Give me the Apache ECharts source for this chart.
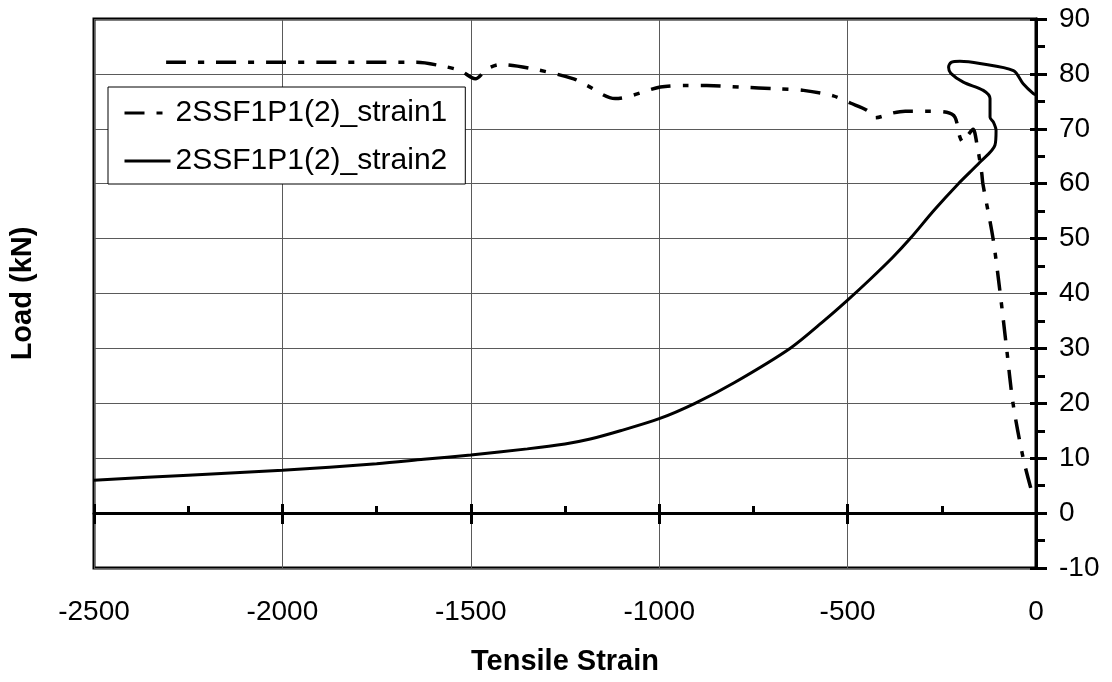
<!DOCTYPE html>
<html>
<head>
<meta charset="utf-8">
<script src="https://cdn.jsdelivr.net/npm/echarts@6/dist/echarts.min.js"></script>
<style>
  html, body { margin: 0; padding: 0; background: #fff; }
  #chart { width: 1112px; height: 682px; }
</style>
</head>
<body>
<div id="chart"></div>
<script>
// strain gauge 1 (dash-dot), [tensile strain, load kN]
const strain1 = [
  [-14, 4.6], [-34, 10], [-61, 20], [-78, 30], [-95, 40], [-114, 50],
  [-141, 60], [-144, 61.9], [-157, 67.3], [-167, 69.9], [-181, 68.8],
  [-194, 67.6], [-202, 68.5], [-215, 72.1], [-237, 73.0], [-290, 73.2],
  [-347, 73.2], [-379, 72.9], [-427, 72.0], [-449, 73.4], [-493, 74.7],
  [-538, 76.0], [-617, 77.0], [-688, 77.3], [-785, 77.6], [-874, 77.9],
  [-927, 77.9], [-997, 77.6], [-1117, 75.5], [-1192, 77.9], [-1227, 79.1],
  [-1334, 80.9], [-1422, 81.7], [-1457, 80.9], [-1488, 79.1], [-1528, 80.6],
  [-1581, 81.5], [-1643, 82.1], [-2324, 82.1]
]
// strain gauge 2 (solid)
const strain2 = [
  [-2500, 6.0], [-2250, 6.9], [-2000, 7.8], [-1750, 9.0], [-1625, 9.8],
  [-1500, 10.6], [-1350, 11.7], [-1250, 12.6], [-1183, 13.5], [-1103, 15.0],
  [-1000, 17.2], [-905, 20], [-800, 23.8], [-653, 30], [-560, 35.2],
  [-500, 38.8], [-440, 42.6], [-380, 46.6], [-334, 50], [-270, 55.2], [-206, 60],
  [-149, 63.9], [-109, 67], [-106, 69.7], [-113, 71.2], [-122, 72.1],
  [-122, 75.5], [-140, 77], [-193, 78.5], [-226, 80.1], [-232, 81.2],
  [-225, 82.1], [-202, 82.3], [-149, 81.9], [-60, 80.6], [-34, 78.2],
  [-7, 76.4], [0, 76.2]
]
const seriesNames = ['2SSF1P1(2)_strain1', '2SSF1P1(2)_strain2']
const xRange = [-2500, 0, 500]
const yRange = [-10, 90, 10]

const font = 'Liberation Sans, Arial, sans-serif'
const chart = echarts.init(document.getElementById('chart'))

const plain = (v) => String(v)
const baseX = { type: 'value', min: xRange[0], max: xRange[1], interval: xRange[2] }
const baseY = { type: 'value', min: yRange[0], max: yRange[1], interval: yRange[2] }
const gridLine = { show: true, lineStyle: { color: '#5a5a5a', width: 1 } }

chart.setOption({
  animation: false,
  backgroundColor: '#fff',
  textStyle: { fontFamily: font, color: '#000' },
  grid: {
    left: 94, right: 76, top: 19, bottom: 114,
    show: true, borderColor: '#000', borderWidth: 3, backgroundColor: 'transparent'
  },
  legend: {
    left: 108, top: 87,
    orient: 'vertical',
    data: seriesNames,
    backgroundColor: '#fff',
    borderColor: '#000', borderWidth: 1,
    padding: [11, 18, 8, 15],
    itemWidth: 46, itemHeight: 28, itemGap: 18,
    itemStyle: { color: 'transparent', borderColor: 'transparent', borderWidth: 0 },
    lineStyle: { width: 3 },
    textStyle: { fontSize: 30, fontFamily: font, color: '#000' }
  },
  xAxis: [
    Object.assign({}, baseX, {
      position: 'bottom',
      name: 'Tensile Strain', nameLocation: 'middle', nameGap: 79,
      nameTextStyle: { fontSize: 29, fontWeight: 'bold', fontFamily: font, color: '#000' },
      axisLine: { show: false, onZero: false },
      axisTick: { show: false },
      axisLabel: { fontSize: 28, margin: 30, color: '#000', fontFamily: font, formatter: plain },
      splitLine: gridLine
    }),
    // zero line with upward ticks
    Object.assign({}, baseX, {
      position: 'top',
      axisLine: { show: true, onZero: true, lineStyle: { color: '#000', width: 3 } },
      axisTick: { show: true, inside: false, length: 9, lineStyle: { color: '#000', width: 3 } },
      minorTick: { show: true, splitNumber: 2, length: 7, lineStyle: { color: '#000', width: 3 } },
      axisLabel: { show: false },
      splitLine: { show: false }
    }),
    // downward half of major ticks
    Object.assign({}, baseX, {
      position: 'bottom',
      axisLine: { show: false, onZero: true },
      axisTick: { show: true, inside: false, length: 11, lineStyle: { color: '#000', width: 3 } },
      axisLabel: { show: false },
      splitLine: { show: false }
    })
  ],
  yAxis: [
    Object.assign({}, baseY, {
      position: 'right',
      axisLine: { show: true, onZero: false, lineStyle: { color: '#000', width: 3 } },
      axisTick: { show: true, inside: false, length: 11, lineStyle: { color: '#000', width: 3 } },
      minorTick: { show: true, splitNumber: 2, length: 9, lineStyle: { color: '#000', width: 3 } },
      axisLabel: { fontSize: 28, margin: 23, color: '#000', fontFamily: font, formatter: plain },
      splitLine: gridLine
    }),
    Object.assign({}, baseY, {
      position: 'left',
      name: 'Load (kN)', nameLocation: 'middle', nameGap: 57,
      nameTextStyle: { fontSize: 29, fontWeight: 'bold', fontFamily: font, color: '#000' },
      axisLine: { show: false, onZero: false },
      axisTick: { show: false },
      axisLabel: { show: false },
      splitLine: { show: false }
    }),
    Object.assign({}, baseY, {
      position: 'right',
      axisLine: { show: false, onZero: false },
      axisTick: { show: true, inside: true, length: 6, lineStyle: { color: '#000', width: 3 } },
      axisLabel: { show: false },
      splitLine: { show: false }
    })
  ],
  series: [
    {
      name: seriesNames[0],
      type: 'line',
      data: strain1,
      smooth: 0.3,
      symbol: 'none',
      lineStyle: { color: '#000', width: 3.5, type: [20, 12, 6, 12] },
      itemStyle: { color: '#000' },
      z: 5
    },
    {
      name: seriesNames[1],
      type: 'line',
      data: strain2,
      smooth: 0.3,
      symbol: 'none',
      lineStyle: { color: '#000', width: 3 },
      itemStyle: { color: '#000' },
      z: 5
    }
  ]
})
</script>
</body>
</html>
